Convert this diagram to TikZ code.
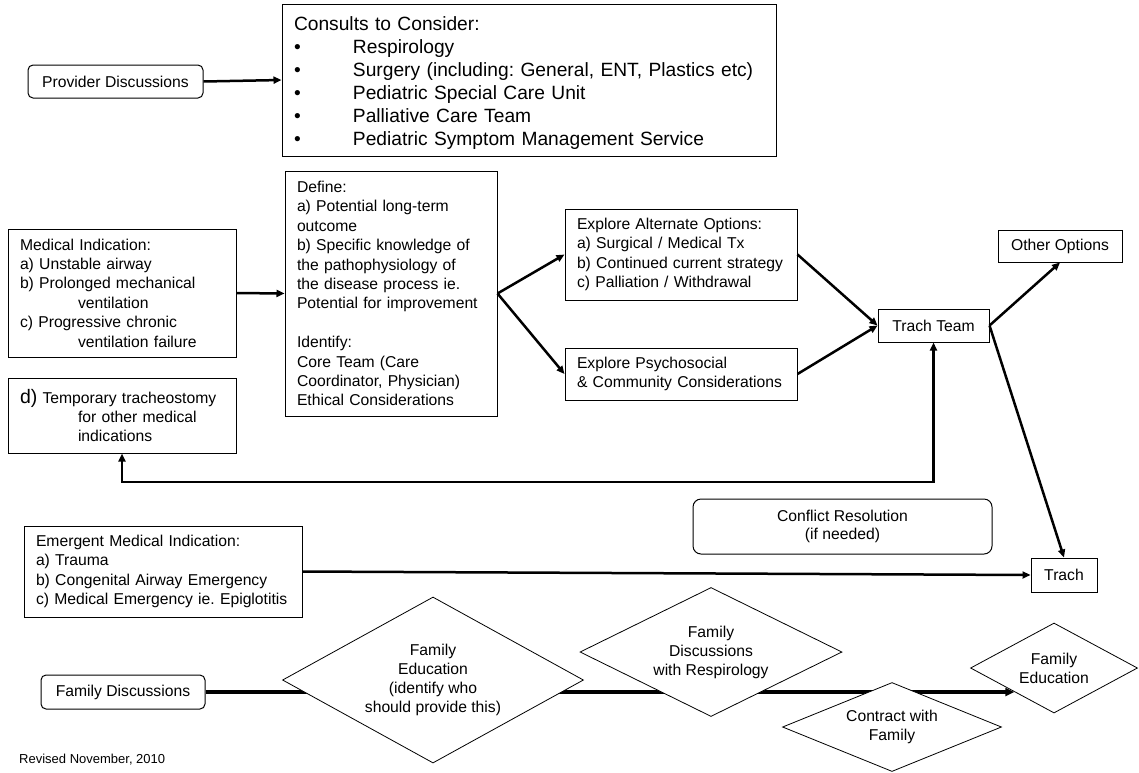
\documentclass[tikz,border=0pt]{standalone}
\usepackage{fontspec}
\setmainfont{Liberation Sans}
\usetikzlibrary{arrows.meta,shapes.geometric}
\pgfdeclarelayer{bg}
\pgfsetlayers{bg,main}
\frenchspacing
\hyphenpenalty=10000
\exhyphenpenalty=10000
\tikzset{
  txt/.style={font=\fontsize{15.7}{19.4}\selectfont},
  box/.style={txt, draw, line width=1pt, inner xsep=12pt, inner ysep=0pt, align=left, fill=white},
  rbox/.style={txt, draw, line width=1pt, rounded corners=6pt, inner sep=0pt, align=center, fill=white},
  sbox/.style={txt, draw, line width=1pt, inner sep=0pt, align=center, fill=white},
  dia/.style={diamond, draw, line width=0.8pt, fill=white, inner sep=0pt, align=center,
              font=\fontsize{15.7}{19}\selectfont},
  conn/.style={line width=2.5pt, -{Triangle[length=8pt,width=7pt]}},
  conn2/.style={line width=2.5pt, {Triangle[length=8pt,width=7pt]}-{Triangle[length=8pt,width=7pt]}},
  famline/.style={line width=3.5pt, -{Triangle[length=9pt,width=8pt]}},
}
\begin{document}
\begin{tikzpicture}[x=1pt,y=-1pt]
\useasboundingbox (0,0) rectangle (1139,772);

% top row
\node[rbox, rounded corners=5pt, minimum width=175pt, minimum height=33pt] (prov) at (115.5,81.5) {Provider Discussions};
\node[box, text width=470pt, minimum height=152pt, font=\fontsize{19.2}{23}\selectfont] (cons) at (529,80)
  {\rule{0pt}{20pt}Consults to Consider:\\
   \makebox[59pt][l]{\textbullet}Respirology\\
   \makebox[59pt][l]{\textbullet}Surgery~(including:~General,~ENT,~Plastics~etc)\\
   \makebox[59pt][l]{\textbullet}Pediatric Special Care Unit\\
   \makebox[59pt][l]{\textbullet}Palliative Care Team\\
   \makebox[59pt][l]{\textbullet}Pediatric~Symptom~Management~Service};

% middle
\node[box, text width=204pt, minimum height=128pt] (med) at (122,293)
  {Medical Indication:\\
   a) Unstable airway\\
   b)~Prolonged~mechanical\\
   \hspace*{58pt}ventilation\\
   c) Progressive chronic\\
   \hspace*{58pt}ventilation~failure};
\node[box, text width=204pt, minimum height=75pt] (dbox) at (122,415.5)
  {{\fontsize{19.5}{19.4}\selectfont d)}~Temporary~tracheostomy\\
   \hspace*{58pt}for other medical\\
   \hspace*{58pt}indications};
\node[box, text width=188pt, minimum height=245pt] (def) at (391,293.5)
  {Define:\\
   a) Potential long-term\\
   outcome\\
   b)~Specific~knowledge~of\\
   the pathophysiology of\\
   the~disease~process~ie.\\
   Potential~for~improvement\\[19.4pt]
   Identify:\\
   Core Team (Care\\
   Coordinator,~Physician)\\
   Ethical Considerations};
\node[box, text width=208pt, minimum height=91pt] (alt) at (681,254.5)
  {Explore Alternate Options:\\
   a) Surgical / Medical Tx\\
   b)~Continued~current~strategy\\
   c) Palliation / Withdrawal};
\node[box, text width=208pt, minimum height=52pt] (psy) at (681,374)
  {Explore Psychosocial\\
   \&~Community~Considerations};
\node[sbox, minimum width=111pt, minimum height=33pt] (tt) at (933.5,325.5) {Trach Team};
\node[sbox, minimum width=124pt, minimum height=32pt] (oth) at (1060,246) {Other Options};

% lower
\node[rbox, rounded corners=8pt, minimum width=299pt, minimum height=55pt, font=\fontsize{15.7}{18}\selectfont] (conf) at (842.5,526.5)
  {Conflict Resolution\\(if needed)};
\node[box, text width=254pt, minimum height=91pt] (emg) at (163,571.5)
  {Emergent Medical Indication:\\
   a) Trauma\\
   b)~Congenital~Airway~Emergency\\
   c)~Medical~Emergency~ie.~Epiglotitis};
\node[sbox, minimum width=66pt, minimum height=34pt] (trach) at (1064,575) {Trach};

% family row
\node[rbox, rounded corners=5pt, minimum width=164pt, minimum height=34pt] (fam) at (123,692) {Family Discussions};
\node[dia, shape aspect=1.81, minimum width=301pt, minimum height=166pt] (d1) at (433,680)
  {Family\\Education\\(identify who\\should provide this)};
\node[dia, shape aspect=2.03, minimum width=262pt, minimum height=129pt] (d2) at (711,652)
  {Family\\Discussions\\with Respirology};
\node[dia, shape aspect=2.46, minimum width=219pt, minimum height=89pt] (d3) at (892,727)
  {Contract with\\Family};
\node[dia, shape aspect=1.86, minimum width=167pt, minimum height=90pt] (d4) at (1054,668)
  {Family\\Education};

\node[anchor=west, inner sep=0pt, font=\fontsize{13}{15}\selectfont] (rev) at (19,760) {Revised November, 2010};

% connectors
\draw[conn] (prov.east) -- (cons.west);
\draw[conn] (med.east) -- (def.west);
\draw[conn] (def.east) -- (alt.west);
\draw[conn] (def.east) -- (psy.west);
\draw[conn] (alt.east) -- (tt.west);
\draw[conn] (psy.east) -- (tt.west);
\draw[conn] (tt.east) -- (oth.south);
\draw[conn] (tt.east) -- (trach.north);
\coordinate (loop) at (122,482);
\draw[conn2] (dbox.south) -- (dbox.south |- loop) -- (tt.south |- loop) -- (tt.south);
\draw[conn] (emg.east) -- (trach.west);
\begin{pgfonlayer}{bg}
\fill[white] (0,0) rectangle (1139,772);
\draw[famline] (fam.east) -- (fam.east -| d4.211);
\end{pgfonlayer}
\end{tikzpicture}
\end{document}
